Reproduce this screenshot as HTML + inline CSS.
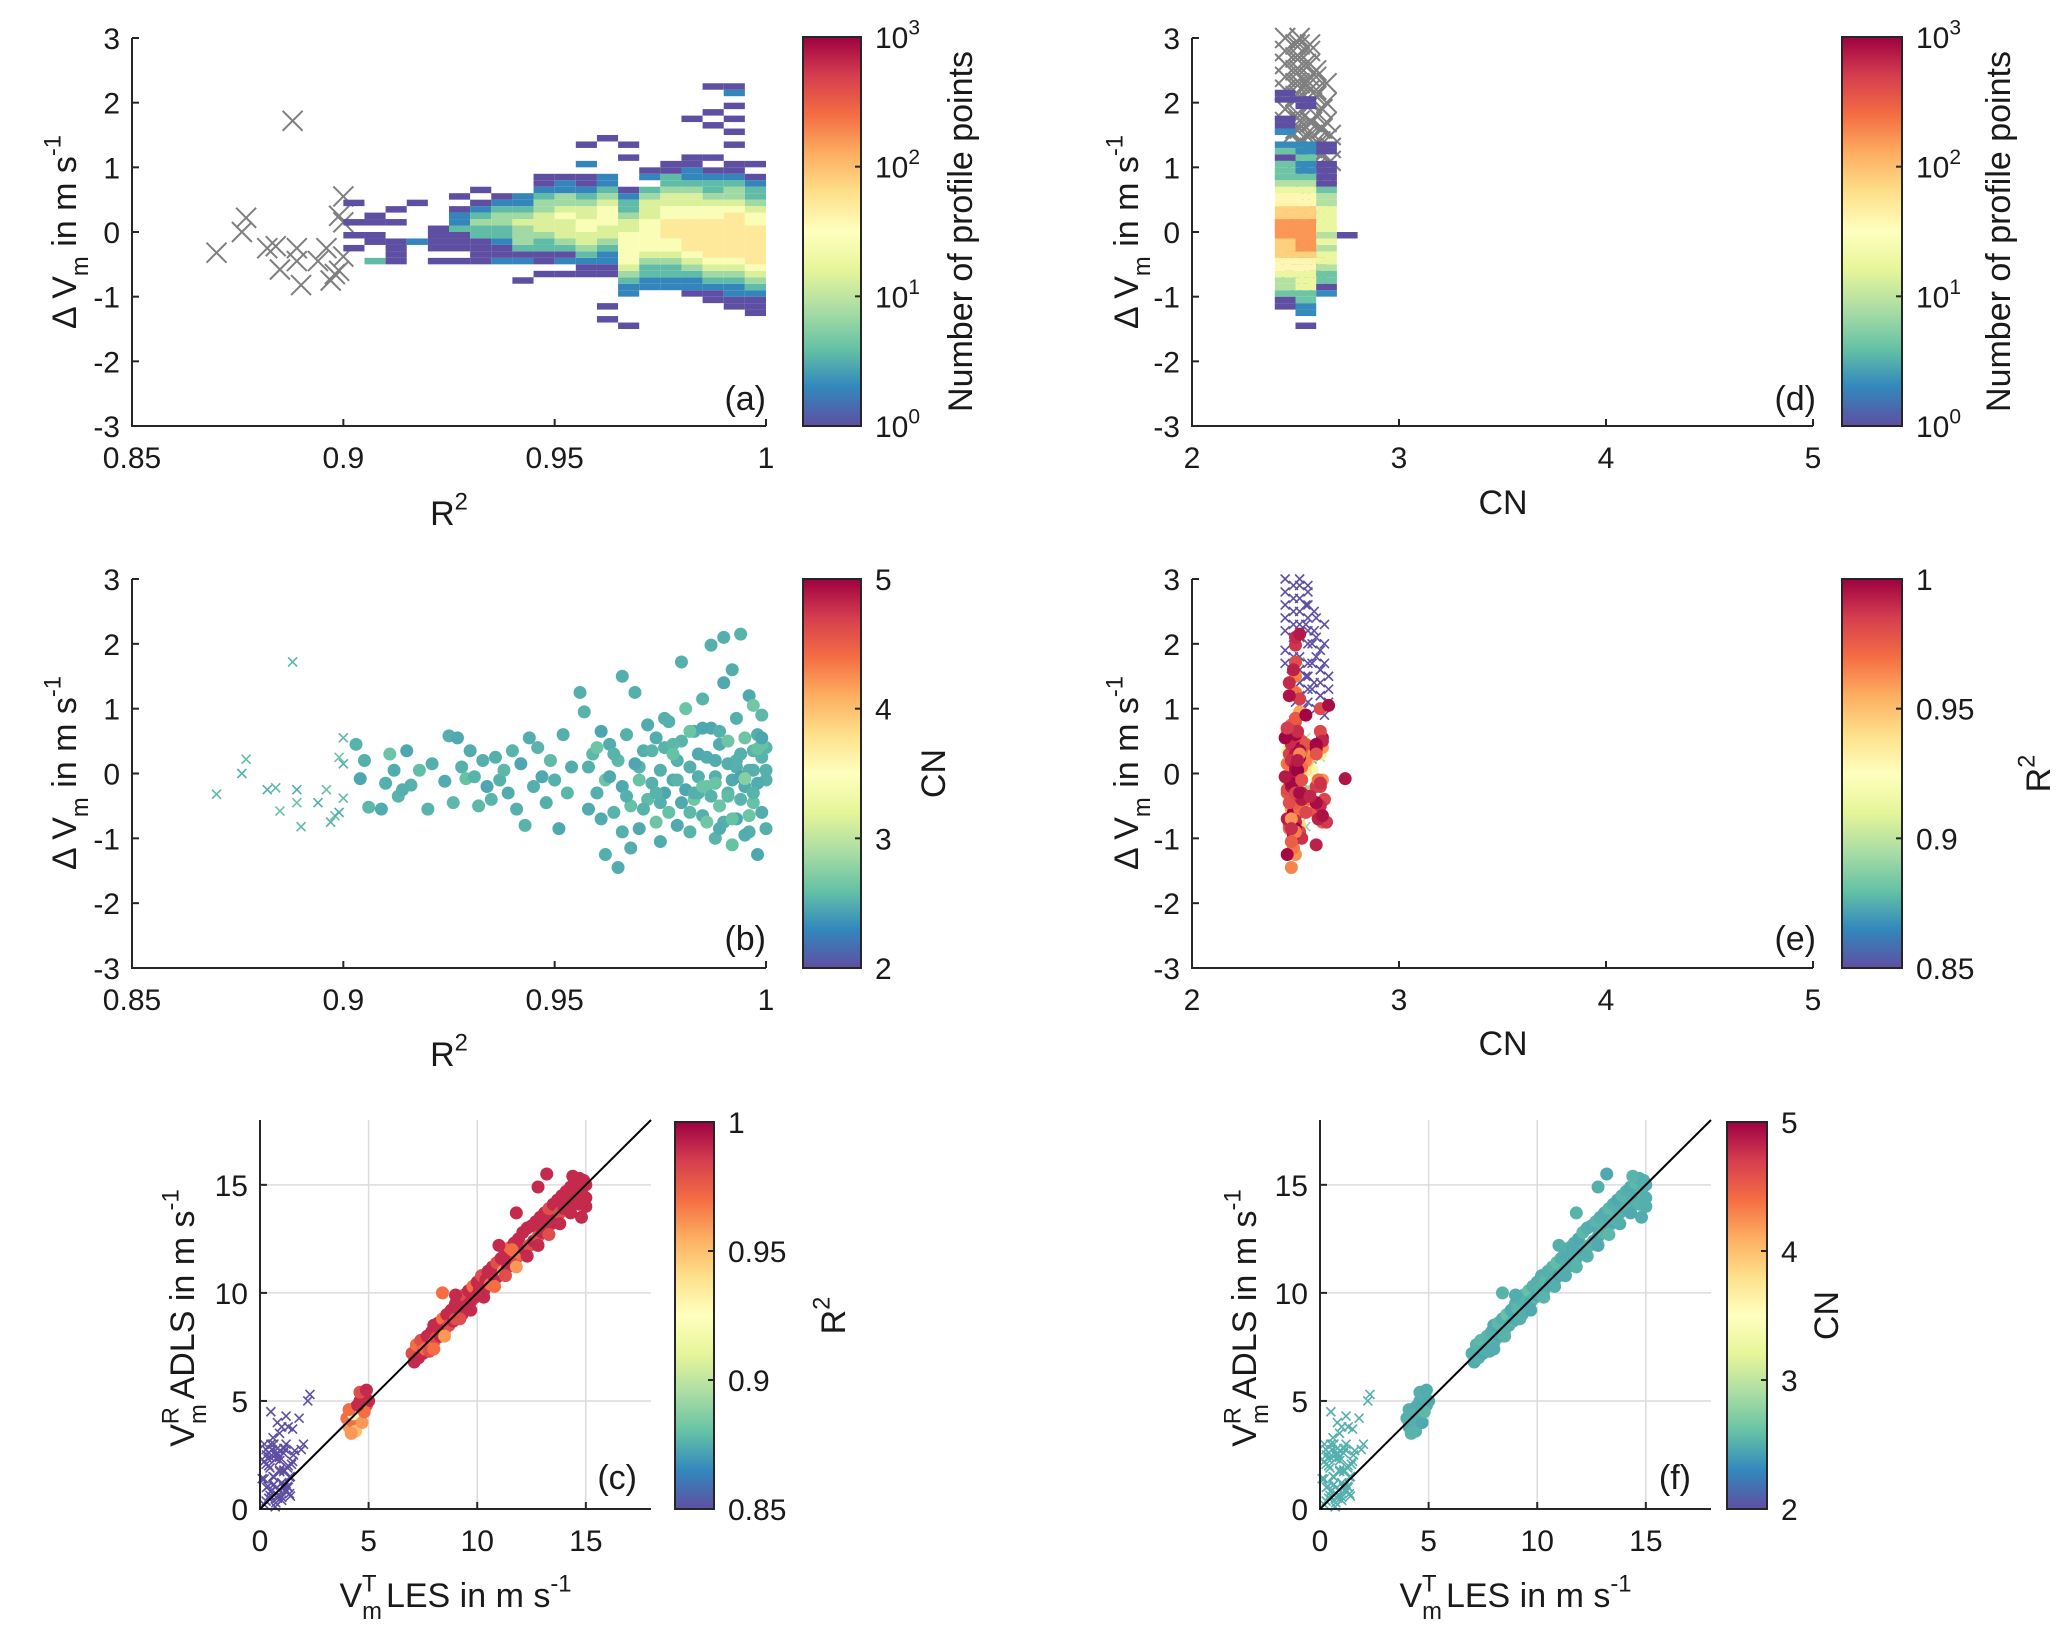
<!DOCTYPE html>
<html><head><meta charset="utf-8"><title>ADLS vs LES wind speed comparison</title>
<style>
html,body{margin:0;padding:0;background:#fff;}
svg{display:block;font-family:"Liberation Sans",Arial,sans-serif;}
</style></head>
<body>
<svg id="fig" width="2067" height="1644" viewBox="0 0 2067 1644" xmlns="http://www.w3.org/2000/svg">
<defs>
<linearGradient id="spec" x1="0" y1="1" x2="0" y2="0">
<stop offset="0" stop-color="rgb(94,79,162)"/><stop offset="0.1" stop-color="rgb(50,136,189)"/>
<stop offset="0.2" stop-color="rgb(102,194,165)"/><stop offset="0.3" stop-color="rgb(171,221,164)"/>
<stop offset="0.4" stop-color="rgb(230,245,152)"/><stop offset="0.5" stop-color="rgb(255,255,191)"/>
<stop offset="0.6" stop-color="rgb(254,224,139)"/><stop offset="0.7" stop-color="rgb(253,174,97)"/>
<stop offset="0.8" stop-color="rgb(244,109,67)"/><stop offset="0.9" stop-color="rgb(213,62,79)"/>
<stop offset="1" stop-color="rgb(158,1,66)"/>
</linearGradient>
</defs>
</svg>
<script>
// ---- data: panel (a) histogram columns (R2 bin centre, lowest dV bin index, log-level string) ----
const aBinX = [0.9025,0.9075,0.9125,0.9175,0.9225,0.9275,0.9325,0.9375,0.9425,0.9475,0.9525,0.9575,0.9625,0.9675,0.9725,0.9775,0.9825,0.9875,0.9925,0.9975];
const aBinLo = [12,10,10,13,10,10,10,10,7,8,8,8,1,0,6,6,5,4,3,2];
const aBinLevels = ["1.1.1..1","3..11.11","1111..1.1","2.....1","1.1111","1.1113221.1","1111334321.1","21123344321","1..21344454322","1.11334555443211","1.21345556544221","1123455665543211.2..1","1.1....1122345566654322.....1","1....22345666665543321....1.1","2233456666655543.21","22334566777665543311","1223456777776655432211.....1","112345677777766543321.1....1.1...1","11223456777777765443211..1.1.1.1.21","1112345677777766543321.1"];
// ---- data: panel (d) histogram columns (CN bin centre) ----
const dBinX = [2.45,2.55,2.65,2.75];
const dBinLo = [3,0,5,14];
const dBinLevels = ["11344566777888776654333132.211..11","1.223355566788888776654322322.....11","213345545455554431111.11","1"];
// ---- data: outlier profiles (x markers): R2, CN, dV ----
const outR2 = [0.870,0.876,0.877,0.882,0.884,0.885,0.888,0.889,0.889,0.890,0.894,0.896,0.897,0.898,0.899,0.899,0.900,0.900,0.900, 0.80,0.80,0.80,0.80,0.80,0.80,0.80,0.80,0.80,0.80,0.80,0.80,0.80,0.80,0.80,0.80,0.80,0.80,0.80,0.80,0.80,0.80,0.80,0.80,0.80,0.80,0.80,0.80,0.80,0.80,0.80,0.80];
const outCN = [2.55,2.52,2.58,2.50,2.56,2.60,2.52,2.48,2.62,2.55,2.50,2.58,2.53,2.60,2.47,2.62,2.55,2.50,2.57, 2.45,2.45,2.45,2.45,2.45,2.45,2.45,2.52,2.52,2.52,2.52,2.52,2.52,2.52,2.52,2.52,2.52,2.55,2.55,2.58,2.58,2.60,2.60,2.60,2.62,2.62,2.62,2.60,2.58,2.55,2.48,2.50];
const outDV = [-0.32,0.0,0.22,-0.25,-0.22,-0.58,1.72,-0.25,-0.45,-0.82,-0.45,-0.25,-0.75,-0.65,-0.6,0.25,0.55,0.15,-0.38, 3.0,2.8,2.6,2.4,2.2,1.9,1.7,3.0,2.9,2.7,2.5,2.3,2.1,1.8,1.6,1.4,1.2,2.6,2.3,2.0,1.7,2.4,2.1,1.8,1.6,1.4,1.2,1.0,1.3,1.5,1.5,1.1];
// ---- data: accepted profiles (dots): R2, CN, dV ----
const ptR2 = [0.905,0.903,0.904,0.906,0.909,0.911,0.910,0.912,0.913,0.914,0.915,0.916,0.918,0.920,0.921,0.924,0.925,0.926,0.927,0.928,0.929,0.930,0.931,0.932,0.933,0.934,0.935,0.936,0.937,0.938,0.939,0.940,0.941,0.942,0.943,0.944,0.945,0.946,0.947,0.948,0.949,0.950,0.951,0.952,0.953,0.954,0.956,0.957,0.958,0.959,0.960,0.961,0.962,0.962,0.963,0.964,0.965,0.965,0.966,0.966,0.967,0.968,0.968,0.969,0.970,0.970,0.971,0.972,0.972,0.973,0.974,0.974,0.975,0.976,0.976,0.977,0.977,0.978,0.979,0.979,0.980,0.980,0.981,0.981,0.982,0.982,0.983,0.983,0.984,0.984,0.985,0.985,0.986,0.986,0.987,0.987,0.988,0.988,0.989,0.989,0.990,0.990,0.991,0.991,0.992,0.992,0.993,0.993,0.994,0.994,0.995,0.995,0.996,0.996,0.997,0.997,0.998,0.998,0.999,0.999,1.000,1.000,0.958,0.960,0.963,0.967,0.969,0.971,0.973,0.975,0.978,0.980,0.982,0.984,0.986,0.987,0.988,0.989,0.990,0.991,0.992,0.993,0.994,0.995,0.996,0.997,0.998,0.999,1.000,1.000,0.961,0.964,0.966,0.970,0.974,0.976,0.979,0.983,0.985,0.989,0.992,0.994,0.997,0.999,0.996,0.998,0.995,0.997,0.999,0.993,0.991,0.988,0.985,0.982,0.978,0.975,0.971];
const ptCN = [2.50,2.52,2.46,2.55,2.48,2.62,2.50,2.49,2.53,2.50,2.46,2.51,2.58,2.52,2.50,2.48,2.50,2.55,2.47,2.51,2.60,2.49,2.52,2.55,2.50,2.46,2.53,2.50,2.51,2.55,2.48,2.52,2.50,2.46,2.52,2.49,2.50,2.53,2.47,2.50,2.56,2.51,2.47,2.50,2.54,2.49,2.50,2.52,2.48,2.55,2.50,2.46,2.63,2.50,2.49,2.52,2.48,2.55,2.50,2.47,2.51,2.60,2.49,2.50,2.53,2.47,2.50,2.56,2.48,2.51,2.49,2.63,2.50,2.46,2.52,2.50,2.60,2.49,2.51,2.47,2.53,2.50,2.46,2.62,2.50,2.52,2.49,2.64,2.50,2.47,2.52,2.50,2.49,2.60,2.50,2.46,2.53,2.50,2.48,2.62,2.50,2.47,2.53,2.50,2.49,2.60,2.50,2.46,2.52,2.50,2.48,2.63,2.50,2.47,2.51,2.60,2.50,2.46,2.52,2.49,2.50,2.53,2.50,2.63,2.47,2.51,2.46,2.52,2.53,2.50,2.55,2.47,2.62,2.50,2.65,2.52,2.48,2.51,2.50,2.63,2.47,2.50,2.53,2.49,2.50,2.52,2.48,2.60,2.50,2.51,2.48,2.52,2.50,2.61,2.52,2.50,2.53,2.50,2.62,2.48,2.61,2.45,2.52,2.55,2.63,2.60,2.74,2.66,2.45,2.51,2.57,2.62,2.46,2.55,2.60,2.48,2.52,2.58,2.44];
const ptDV = [0.20,0.45,-0.08,-0.52,-0.55,0.30,-0.15,0.05,-0.35,-0.25,0.35,-0.18,0.05,-0.55,0.15,-0.12,0.58,-0.45,0.55,0.10,-0.08,0.35,-0.05,-0.50,0.20,-0.20,-0.40,0.25,-0.10,0.05,-0.30,0.35,-0.55,0.15,-0.80,0.55,-0.20,0.40,-0.05,-0.45,0.20,-0.10,-0.85,0.60,-0.30,0.10,1.25,0.95,-0.55,0.30,-0.30,0.65,-0.10,-1.25,0.45,-0.60,-1.45,0.20,1.50,-0.20,0.60,-0.50,-1.15,1.25,0.10,-0.85,0.35,-0.40,0.75,-0.15,0.55,-0.75,0.05,-0.30,0.40,0.80,-0.60,-0.10,0.20,-0.80,0.50,1.72,-0.25,1.00,0.10,-0.90,0.65,-0.40,-0.05,0.30,1.15,-0.65,0.25,-0.20,1.98,0.70,-1.00,-0.05,0.45,-0.50,2.10,1.40,-0.30,0.15,1.60,-1.10,0.85,-0.70,2.15,0.30,-0.20,0.55,-0.90,1.20,0.05,-0.45,0.60,-1.25,0.25,-0.60,-0.10,0.40,0.10,0.40,-0.05,-0.35,0.15,-0.55,0.35,-0.45,0.45,-0.45,0.65,-0.30,-0.75,-0.35,0.20,0.65,-0.75,0.50,-0.10,0.10,-0.40,-0.95,0.05,0.35,-0.15,0.45,-0.85,0.05,-0.70,0.30,-0.90,-0.10,-0.30,0.85,-0.10,-0.30,-0.20,-0.85,-0.70,-0.05,-0.30,0.90,-0.65,0.38,-0.08,1.05,0.55,0.20,-0.35,-0.15,0.70,-0.60,0.30,-1.05];
// ---- data: panels (c),(f): outlier profiles near zero (x markers) ----
const lowVT = [0.2,0.3,0.4,0.5,0.6,0.7,0.8,0.9,1.0,1.1,1.2,1.3,1.4,0.3,0.5,0.6,0.8,0.9,1.0,1.2,1.3,1.5,0.1,0.2,0.4,0.7,1.1,1.4,0.5,0.8,1.0,1.2,1.5,1.8,2.0,2.2,2.3,1.6,1.3,0.2,0.4,0.6,0.9,1.1];
const lowVR = [0.2,1.0,2.0,3.0,1.5,2.5,0.5,1.8,1.2,2.8,0.8,2.0,1.5,2.5,0.8,3.3,2.8,3.5,0.4,3.0,1.0,2.2,1.4,3.0,0.5,0.1,1.8,0.6,4.5,4.0,3.8,4.3,3.7,4.2,3.0,5.0,5.3,2.7,3.8,2.2,2.6,1.1,2.4,1.0];
// ---- data: panels (c),(f): accepted profiles ----
const scVT = [7.0,7.1,7.2,7.3,7.4,7.5,7.6,7.7,7.8,7.9,8.0,8.0,8.1,8.2,8.3,8.4,8.5,8.6,8.7,8.8,8.9,9.0,9.0,9.1,9.2,9.3,9.4,9.5,9.6,9.7,9.8,9.9,10.0,10.0,10.1,10.2,10.3,10.4,10.5,10.6,10.7,10.8,10.9,11.0,11.1,11.2,11.3,11.4,11.5,11.6,11.7,11.8,11.9,12.0,12.1,12.2,12.3,12.4,12.5,12.6,12.7,12.8,12.9,13.0,13.1,13.2,13.3,13.4,13.5,13.6,13.7,13.8,13.9,14.0,14.1,14.2,14.3,14.4,14.5,14.6,14.7,14.8,14.9,15.0,8.0,8.5,9.2,9.7,10.3,10.8,11.3,11.8,12.3,12.8,13.3,13.8,14.3,14.7,15.0,14.8,15.0,8.4,11.6,12.8,13.2,14.4,11.0,9.0,11.8,4.0,4.1,4.2,4.3,4.4,4.5,4.6,4.7,4.8,4.9,5.0,4.4,4.3,4.7,4.8,4.6,4.9,4.2,4.1,4.5];
const scVR = [7.2,6.8,7.6,7.0,7.8,7.2,7.4,8.0,7.3,8.2,7.7,8.5,7.9,8.6,8.0,8.8,8.3,9.0,8.5,9.2,8.7,9.5,8.8,9.3,9.7,9.0,9.9,9.4,10.1,9.6,10.3,9.8,10.5,9.9,10.2,10.8,10.1,10.6,11.0,10.4,11.2,10.6,11.4,10.8,11.6,11.0,11.8,11.2,12.1,11.4,12.3,11.6,12.5,11.8,12.8,12.0,13.0,12.2,13.1,12.4,13.3,12.6,13.5,12.8,13.7,13.0,13.9,13.2,14.1,13.4,14.3,13.7,14.5,13.9,14.7,14.1,14.9,14.3,15.1,14.5,15.3,14.7,15.2,15.0,7.4,8.0,8.8,9.2,9.8,10.3,10.8,11.2,11.7,12.2,12.7,13.2,13.7,14.1,14.4,13.5,14.0,10.0,12.0,14.9,15.5,15.4,12.2,9.9,13.7,4.2,3.8,4.5,4.0,4.7,4.3,5.0,4.6,5.2,4.8,5.0,3.6,4.4,4.0,4.5,5.4,5.5,3.5,4.6,4.8];
const scR2 = [0.98,0.99,0.97,0.99,0.98,0.99,0.97,0.99,0.98,0.99,0.97,0.99,0.98,0.99,0.99,0.97,0.99,0.99,0.98,0.99,0.99,0.99,0.98,0.99,0.99,0.99,0.98,0.99,0.99,0.99,0.97,0.99,0.99,0.99,0.99,0.98,0.99,0.99,0.99,0.97,0.99,0.99,0.98,0.99,0.99,0.96,0.99,0.99,0.97,0.99,0.99,0.98,0.99,0.97,0.99,0.99,0.99,0.98,0.99,0.99,0.99,0.98,0.99,0.99,0.99,0.99,0.98,0.99,0.99,0.99,0.99,0.98,0.99,0.99,0.99,0.99,0.99,0.99,0.99,0.99,0.99,0.99,0.99,0.99,0.97,0.96,0.98,0.99,0.99,0.97,0.98,0.96,0.99,0.99,0.98,0.99,0.99,0.99,0.99,0.99,0.99,0.97,0.97,0.99,0.99,0.99,0.99,0.99,0.99,0.97,0.96,0.98,0.97,0.99,0.97,0.99,0.98,0.99,0.98,0.99,0.95,0.93,0.96,0.97,0.98,0.99,0.96,0.97,0.99];
const scCN = [2.50,2.48,2.52,2.50,2.55,2.47,2.50,2.53,2.49,2.50,2.52,2.48,2.50,2.55,2.47,2.50,2.52,2.60,2.50,2.48,2.52,2.50,2.47,2.55,2.50,2.49,2.52,2.50,2.60,2.48,2.50,2.53,2.50,2.47,2.52,2.50,2.49,2.55,2.50,2.48,2.52,2.50,2.58,2.47,2.50,2.52,2.49,2.50,2.53,2.48,2.50,2.52,2.47,2.50,2.55,2.49,2.50,2.52,2.48,2.50,2.53,2.47,2.50,2.52,2.49,2.50,2.55,2.48,2.50,2.52,2.47,2.50,2.53,2.49,2.50,2.52,2.48,2.50,2.55,2.47,2.50,2.52,2.49,2.50,2.48,2.52,2.50,2.47,2.53,2.50,2.49,2.52,2.50,2.48,2.55,2.50,2.47,2.52,2.50,2.49,2.50,2.52,2.48,2.50,2.47,2.53,2.50,2.49,2.52,2.50,2.48,2.55,2.50,2.47,2.52,2.50,2.49,2.53,2.50,2.48,2.52,2.50,2.47,2.55,2.50,2.49,2.52,2.50,2.48];
// ---- tick labels ----
const r2Ticks = [0.85,0.9,0.95,1];
const r2TickLabels = ["0.85","0.9","0.95","1"];
const dvTicks = [-3,-2,-1,0,1,2,3];
const cnTicks = [2,3,4,5];
const vTicks = [0,5,10,15];
</script>
<script>
const svg = document.getElementById('fig');
const NS = 'http://www.w3.org/2000/svg';
const STOPS = [[94,79,162],[50,136,189],[102,194,165],[171,221,164],[230,245,152],[255,255,191],[254,224,139],[253,174,97],[244,109,67],[213,62,79],[158,1,66]];
function cmap(t){
  if (!isFinite(t)) t = 0;
  t = Math.max(0, Math.min(1, t));
  const f = t*10, i = Math.min(9, Math.floor(f)), u = f - i;
  const a = STOPS[i], b = STOPS[i+1];
  return 'rgb(' + [0,1,2].map(k => Math.round(a[k] + (b[k]-a[k])*u)).join(',') + ')';
}
function mk(tag, attrs, parent){
  const e = document.createElementNS(NS, tag);
  for (const k in attrs) e.setAttribute(k, attrs[k]);
  (parent || svg).appendChild(e);
  return e;
}
// parts: [text, 'sup'|'sub'|undefined, backShiftPx]
function richText(parent, x, y, parts, size, rot, anchor){
  const t = mk('text', {x:x, y:y, 'font-size':size, fill:'#1a1a1a', 'text-anchor':anchor || 'middle'}, parent);
  if (rot) t.setAttribute('transform', 'rotate(' + rot + ' ' + x + ' ' + y + ')');
  let shift = 0;
  parts.forEach(p => {
    const s = mk('tspan', {}, t);
    let target = 0, fs = size;
    if (p[1] === 'sup') { target = -size*0.45; fs = size*0.7; }
    if (p[1] === 'sub') { target = size*0.35; fs = size*0.7; }
    s.setAttribute('dy', target - shift);
    if (p[2]) s.setAttribute('dx', -p[2]);
    s.setAttribute('font-size', fs);
    shift = target;
    s.textContent = p[0];
  });
  return t;
}
function makeAxes(name, o){
  const g = mk('g', {});
  
  
  const sx = v => o.x0 + (v - o.xmin)/(o.xmax - o.xmin)*(o.x1 - o.x0);
  const sy = v => o.y1 - (v - o.ymin)/(o.ymax - o.ymin)*(o.y1 - o.y0);
  if (o.grid) {
    const gg = mk('g', {stroke:'#dcdcdc', 'stroke-width':1.5}, g);
    
    
    o.xt.forEach(v => { if (v > o.xmin) mk('line', {x1:sx(v), x2:sx(v), y1:o.y0, y2:o.y1}, gg); });
    o.yt.forEach(v => { if (v > o.ymin) mk('line', {x1:o.x0, x2:o.x1, y1:sy(v), y2:sy(v)}, gg); });
  }
  const plot = mk('g', {}, g);
  
  
  const ax = mk('g', {stroke:'#262626', 'stroke-width':2, fill:'none'}, g);
  
  
  mk('path', {d:'M' + o.x0 + ' ' + o.y0 + ' V' + o.y1 + ' H' + o.x1}, ax);
  const xl = mk('g', {'font-size':30, fill:'#1a1a1a', 'text-anchor':'middle'}, g);
  
  
  o.xt.forEach((v, i) => {
    mk('line', {x1:sx(v), x2:sx(v), y1:o.y1, y2:o.y1 - 7}, ax);
    const t = mk('text', {x:sx(v), y:o.y1 + 42}, xl);
    t.textContent = o.xtl ? o.xtl[i] : String(v);
  });
  const yl = mk('g', {'font-size':30, fill:'#1a1a1a', 'text-anchor':'end'}, g);
  
  
  o.yt.forEach(v => {
    mk('line', {x1:o.x0, x2:o.x0 + 7, y1:sy(v), y2:sy(v)}, ax);
    const t = mk('text', {x:o.x0 - 12, y:sy(v) + 11}, yl);
    t.textContent = String(v);
  });
  return {g:g, plot:plot, sx:sx, sy:sy};
}
function colorbar(name, x0, x1, y0, y1, ticks, labelFn, title, titleX){
  const g = mk('g', {});
  
  
  mk('rect', {x:x0, y:y0, width:x1-x0, height:y1-y0, fill:'url(#spec)', stroke:'#262626', 'stroke-width':2}, g);
  ticks.forEach((t, i) => {
    const y = y1 - t*(y1-y0);
    mk('line', {x1:x1, x2:x1-6, y1:y, y2:y, stroke:'#262626', 'stroke-width':2}, g);
    labelFn(g, x1 + 14, y + 11, i);
  });
  const tt = richText(g, titleX, (y0+y1)/2, title, 34, -90);
  
  
  return g;
}
function xMark(parent, x, y, h, color, w){
  return mk('path', {d:'M'+(x-h)+' '+(y-h)+'L'+(x+h)+' '+(y+h)+'M'+(x-h)+' '+(y+h)+'L'+(x+h)+' '+(y-h), stroke:color, 'stroke-width':w, fill:'none'}, parent);
}
function panelLabel(g, x, y, s){
  const t = mk('text', {x:x, y:y, 'font-size':34, fill:'#1a1a1a', 'text-anchor':'end'}, g);
  t.textContent = s;
  
  
}
const dvLabel = [['\u0394 V'],['m','sub'],[' in m s'],['-1','sup']];
const numLabel = (g, x, y, i, arr) => { const t = mk('text', {x:x, y:y, 'font-size':30, fill:'#1a1a1a'}, g); t.textContent = arr[i]; };
const logLabel = (g, x, y, i) => { richText(g, x, y, [['10'],[String(i),'sup']], 30, 0, 'start'); };
const NPT = Math.min(ptR2.length, ptCN.length, ptDV.length);
const NSC = Math.min(scVT.length, scVR.length, scR2.length, scCN.length);
const NLOW = Math.min(lowVT.length, lowVR.length);
const NOUT = Math.min(outR2.length, outCN.length, outDV.length);

// ================= Panel (a) =================
(function(){
  const A = makeAxes('panel-a-histogram-r2', {x0:132,x1:766,y0:38,y1:426,xmin:0.85,xmax:1,ymin:-3,ymax:3,xt:r2Ticks,xtl:r2TickLabels,yt:dvTicks});
  const gx = mk('g', {}, A.plot);
  
  
  for (let i = 0; i < NOUT; i++) { if (outR2[i] >= 0.85) xMark(gx, A.sx(outR2[i]), A.sy(outDV[i]), 10, '#7f7f7f', 2); }
  const gc = mk('g', {}, A.plot);
  
  
  aBinX.forEach((bx, c) => {
    const s = aBinLevels[c];
    for (let j = 0; j < s.length; j++) {
      if (s[j] === '.') continue;
      const ylo = -1.5 + 0.1*(aBinLo[c] + j);
      const r = mk('rect', {x:A.sx(bx - 0.0025), y:A.sy(ylo + 0.1), width:A.sx(bx + 0.0025) - A.sx(bx - 0.0025), height:A.sy(ylo) - A.sy(ylo + 0.1), fill:cmap((+s[j] - 1)/10.5)}, gc);
      
      
    }
  });
  panelLabel(A.g, 766, 410, '(a)');
  const yl = richText(A.g, 76, 232, dvLabel, 34, -90);
  
  
  const xt = richText(A.g, 449, 525, [['R'],['2','sup']], 34, 0);
  
  
  colorbar('colorbar-a-counts', 803, 861, 37, 426, [0,1/3,2/3,1], logLabel, [['Number of profile points']], 972);
})();

// ================= Panel (d) =================
(function(){
  const A = makeAxes('panel-d-histogram-cn', {x0:1192,x1:1813,y0:38,y1:426,xmin:2,xmax:5,ymin:-3,ymax:3,xt:cnTicks,yt:dvTicks});
  const gx = mk('g', {}, A.plot);
  
  
  for (let i = 0; i < NOUT; i++) xMark(gx, A.sx(outCN[i]), A.sy(outDV[i]), 10, '#7f7f7f', 2);
  for (let i = 0; i < NOUT; i++) { if (outR2[i] < 0.85) xMark(gx, A.sx(outCN[i] + 0.05), A.sy(outDV[i] - 0.1), 10, '#7f7f7f', 2); }
  const gc = mk('g', {}, A.plot);
  
  
  dBinX.forEach((bx, c) => {
    const s = dBinLevels[c];
    for (let j = 0; j < s.length; j++) {
      if (s[j] === '.') continue;
      const ylo = -1.5 + 0.1*(dBinLo[c] + j);
      const r = mk('rect', {x:A.sx(bx - 0.05), y:A.sy(ylo + 0.1), width:A.sx(bx + 0.05) - A.sx(bx - 0.05), height:A.sy(ylo) - A.sy(ylo + 0.1), fill:cmap((+s[j] - 1)/9.5)}, gc);
      
      
    }
  });
  panelLabel(A.g, 1816, 410, '(d)');
  const yl = richText(A.g, 1138, 232, dvLabel, 34, -90);
  
  
  const xt = richText(A.g, 1503, 514, [['CN']], 34, 0);
  
  
  colorbar('colorbar-d-counts', 1842, 1902, 37, 426, [0,1/3,2/3,1], logLabel, [['Number of profile points']], 2010);
})();

// ================= Panel (b) =================
(function(){
  const A = makeAxes('panel-b-scatter-r2', {x0:132,x1:766,y0:579,y1:968,xmin:0.85,xmax:1,ymin:-3,ymax:3,xt:r2Ticks,xtl:r2TickLabels,yt:dvTicks});
  const gx = mk('g', {}, A.plot);
  
  
  for (let i = 0; i < NOUT; i++) { if (outR2[i] >= 0.85) xMark(gx, A.sx(outR2[i]), A.sy(outDV[i]), 4.5, cmap((outCN[i]-2)/3), 1.6); }
  const gd = mk('g', {}, A.plot);
  
  
  for (let i = 0; i < NPT; i++) {
    const c = mk('circle', {cx:A.sx(ptR2[i]), cy:A.sy(ptDV[i]), r:6.5, fill:cmap((ptCN[i]-2)/3)}, gd);
    
    
  }
  panelLabel(A.g, 766, 950, '(b)');
  const yl = richText(A.g, 76, 773, dvLabel, 34, -90);
  
  
  const xt = richText(A.g, 449, 1066, [['R'],['2','sup']], 34, 0);
  
  
  colorbar('colorbar-b-cn', 803, 861, 579, 968, [0,1/3,2/3,1], (g,x,y,i)=>numLabel(g,x,y,i,['2','3','4','5']), [['CN']], 945);
})();

// ================= Panel (e) =================
(function(){
  const A = makeAxes('panel-e-scatter-cn', {x0:1192,x1:1813,y0:579,y1:968,xmin:2,xmax:5,ymin:-3,ymax:3,xt:cnTicks,yt:dvTicks});
  const gx = mk('g', {}, A.plot);
  
  
  for (let i = 0; i < NOUT; i++) xMark(gx, A.sx(outCN[i]), A.sy(outDV[i]), 4.5, cmap((outR2[i]-0.85)/0.15), 1.6);
  for (let i = 0; i < NOUT; i++) { if (outR2[i] < 0.85) xMark(gx, A.sx(outCN[i] + 0.04), A.sy(outDV[i] - 0.1), 4.5, cmap(0), 1.6); }
  const gd = mk('g', {}, A.plot);
  
  
  for (let i = 0; i < NPT; i++) {
    const c = mk('circle', {cx:A.sx(ptCN[i]), cy:A.sy(ptDV[i]), r:6.5, fill:cmap((ptR2[i]-0.85)/0.15)}, gd);
    
    
  }
  panelLabel(A.g, 1816, 950, '(e)');
  const yl = richText(A.g, 1138, 773, dvLabel, 34, -90);
  
  
  const xt = richText(A.g, 1503, 1055, [['CN']], 34, 0);
  
  
  colorbar('colorbar-e-r2', 1842, 1902, 579, 968, [0,1/3,2/3,1], (g,x,y,i)=>numLabel(g,x,y,i,['0.85','0.9','0.95','1']), [['R'],['2','sup']], 2050);
})();

// ================= Panels (c) and (f) =================
function vPanel(name, x0, x1, colorBy, cbX0, cbX1, cbLabels, cbTitle, cbTitleX, lab, labX, ylabX){
  const A = makeAxes(name, {x0:x0,x1:x1,y0:1120,y1:1509,xmin:0,xmax:18,ymin:0,ymax:18,xt:vTicks,yt:vTicks,grid:true});
  const gx = mk('g', {}, A.plot);
  
  
  const xcol = colorBy === 'r2' ? cmap(0) : cmap(0.5/3);
  for (let i = 0; i < NLOW; i++) xMark(gx, A.sx(lowVT[i]), A.sy(lowVR[i]), 4.5, xcol, 1.6);
  for (let i = 0; i < NLOW; i++) { if (lowVR[i] < 3.4) xMark(gx, A.sx(lowVT[i]*0.9 + 0.1), A.sy(lowVR[i]*0.85 + 0.2), 4.5, xcol, 1.6); }
  const gd = mk('g', {}, A.plot);
  
  
  for (let i = 0; i < NSC; i++) {
    const col = colorBy === 'r2' ? cmap((scR2[i]-0.85)/0.15) : cmap((scCN[i]-2)/3);
    const c = mk('circle', {cx:A.sx(scVT[i]), cy:A.sy(scVR[i]), r:6.5, fill:col}, gd);
    
    
  }
  const ln = mk('line', {x1:A.sx(0), y1:A.sy(0), x2:A.sx(18), y2:A.sy(18), stroke:'#000', 'stroke-width':2}, A.g);
  
  
  panelLabel(A.g, labX, 1489, lab);
  const yl = richText(A.g, ylabX, 1318, [['V'],['m','sub'],['R','sup',20],[' ADLS in m s'],['-1','sup']], 34, -90);
  
  
  const xt = richText(A.g, (x0+x1)/2, 1607, [['V'],['m','sub'],['T','sup',20],[' LES in m s'],['-1','sup']], 34, 0);
  
  
  colorbar('colorbar-' + name, cbX0, cbX1, 1122, 1509, [0,1/3,2/3,1], (g,x,y,i)=>numLabel(g,x,y,i,cbLabels), cbTitle, cbTitleX);
}
vPanel('panel-c-vr-vs-vt', 260, 651, 'r2', 675, 714, ['0.85','0.9','0.95','1'], [['R'],['2','sup']], 845, '(c)', 637, 194);
vPanel('panel-f-vr-vs-vt', 1320, 1711, 'cn', 1727, 1767, ['2','3','4','5'], [['CN']], 1838, '(f)', 1691, 1256);
</script>
</body></html>
